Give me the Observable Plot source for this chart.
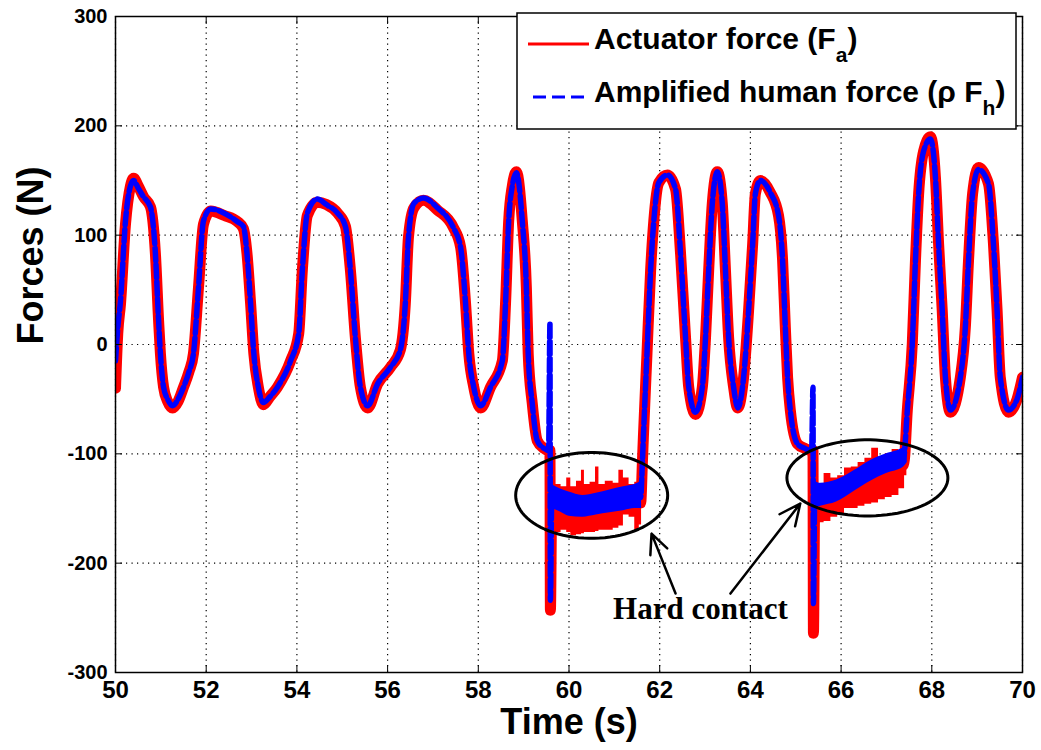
<!DOCTYPE html>
<html>
<head>
<meta charset="utf-8">
<script src="https://cdn.jsdelivr.net/npm/d3@7"></script>
<script src="https://cdn.jsdelivr.net/npm/@observablehq/plot@0.6"></script>
<style>
  html, body { margin: 0; padding: 0; background: white; }
  #wrap { position: relative; width: 1041px; height: 750px; }
  #wrap svg { display: block; }
  #legend { position: absolute; left: 0; top: 0; pointer-events: none; }
</style>
</head>
<body>
<div id="wrap"></div>
<script>
// ---- Data ----
const time = [
50.00,50.05,50.11,50.22,50.33,50.40,50.50,50.62,50.77,50.88,50.95,50.99,51.06,51.15,51.26,51.38,51.50,51.62,51.72,51.83,
51.94,52.10,52.40,52.70,52.82,52.90,52.98,53.05,53.15,53.26,53.40,53.57,53.86,54.04,54.12,54.23,54.45,54.65,54.90,55.07,
55.18,55.29,55.40,55.56,55.78,56.06,56.28,56.39,56.46,56.58,56.79,57.10,57.45,57.61,57.72,57.79,57.90,58.05,58.27,58.53,
58.60,58.67,58.75,58.84,58.97,59.06,59.10,59.19,59.30,59.45,59.55,59.58,59.59,59.62,59.80,60.00,60.30,60.60,60.90,61.20,
61.45,61.58,61.62,61.64,61.72,61.80,61.87,61.98,62.17,62.35,62.46,62.57,62.64,62.79,62.94,63.01,63.08,63.16,63.27,63.38,
63.45,63.52,63.63,63.72,63.85,63.96,64.05,64.11,64.22,64.44,64.62,64.71,64.77,64.82,64.88,65.04,65.20,65.35,65.38,65.39,
65.42,65.55,65.92,66.28,66.65,67.02,67.38,67.46,67.57,67.64,67.71,67.82,67.97,68.08,68.15,68.23,68.30,68.41,68.63,68.74,
68.81,68.90,69.03,69.25,69.36,69.44,69.51,69.69,69.88,70.00];

// Amplified human force (rho F_h), blue dashed
const humanForce = [
-15,15,40,113,145,150,143,135,126,83,22,-8,-39,-50,-56,-50,-39,-25,-8,52,
113,124,120,112,108,83,37,-8,-39,-53,-48,-39,-15,10,68,120,133,128,120,108,
68,6,-39,-56,-36,-21,-5,37,98,129,134,125,107,89,37,-8,-39,-56,-39,-15,
37,113,145,157,113,52,-8,-54,-88,-95,-97,20,-234,-140,-142,-146,-148,-147,-144,-141,
-140,-140,-106,-85,-8,68,113,148,155,142,83,6,-39,-62,-39,6,68,129,158,129,
68,6,-39,-58,-30,31,92,138,150,139,118,77,16,-30,-60,-91,-95,-97,-39,-237,
-137,-137,-134,-124,-115,-109,-103,-60,1,77,138,177,188,153,92,31,-30,-60,-30,16,
77,138,160,147,92,31,-30,-60,-50,-30];

// Actuator force (F_a), red solid
const actuatorForce = [
-40,10,37,110,145,152,145,135,126,83,22,-8,-39,-52,-58,-52,-39,-25,-8,52,
110,122,118,112,106,83,37,-8,-39,-55,-48,-39,-15,10,68,118,130,128,120,108,
68,6,-39,-58,-36,-21,-5,37,98,125,132,123,107,89,37,-8,-39,-58,-39,-15,
37,113,145,158,113,52,-8,-54,-88,-95,-97,-97,-243,-145,-148,-150,-150,-150,-148,-146,
-145,-145,-106,-85,-8,68,113,148,155,142,83,6,-39,-64,-39,6,68,129,158,129,
68,6,-39,-58,-30,31,92,138,150,139,118,77,16,-30,-60,-91,-95,-97,-97,-264,
-140,-142,-140,-130,-122,-116,-110,-60,1,77,138,177,190,153,92,31,-30,-62,-30,16,
77,138,162,147,92,31,-30,-62,-50,-30];

// Noisy bands during the two hard contacts
const redBand1Time = [59.62,59.75,59.90,60.00,60.08,60.25,60.30,60.38,60.55,60.62,60.70,60.90,61.05,61.15,61.25,61.40,61.50,61.60];
const redBand1Hi   = [-118,-128,-130,-122,-130,-125,-115,-128,-126,-112,-128,-125,-127,-115,-122,-128,-126,-115];
const redBand1Lo   = [-165,-172,-170,-172,-175,-174,-173,-172,-172,-171,-170,-170,-168,-166,-156,-158,-170,-165];
const blueBand1Time = [59.62,59.80,60.00,60.30,60.60,60.90,61.20,61.45,61.60];
const blueBand1Hi   = [-128,-132,-135,-138,-136,-133,-130,-128,-125];
const blueBand1Lo   = [-150,-153,-157,-158,-156,-154,-152,-150,-150];

const redBand2Time = [65.42,65.55,65.70,65.85,66.00,66.15,66.30,66.45,66.60,66.75,66.90,67.05,67.20,67.35,67.45];
const redBand2Hi   = [-115,-128,-118,-122,-120,-113,-112,-108,-104,-95,-104,-100,-96,-100,-95];
const redBand2Lo   = [-165,-163,-162,-158,-155,-150,-150,-148,-146,-145,-142,-140,-138,-132,-120];
const blueBand2Time = [65.42,65.55,65.90,66.30,66.65,67.00,67.38,67.46];
const blueBand2Hi   = [-125,-127,-124,-115,-106,-100,-94,-90];
const blueBand2Lo   = [-150,-148,-144,-134,-125,-118,-112,-108];

const xTicks = [50,52,54,56,58,60,62,64,66,68,70];
const yTicks = [-300,-200,-100,0,100,200,300];

// Annotations (data units)
const ellipseCx = [60.50, 66.58];
const ellipseCy = [-138, -122];
const ellipseRx = [1.676, 1.775];
const ellipseRy = [39.3, 34.8];
const arrowFromT = [62.35, 63.56];
const arrowFromF = [-227.8, -227.8];
const arrowToT = [61.82, 65.10];
const arrowToF = [-173, -145.5];
const noteText = "Hard contact";
const noteT = 62.9, noteF = -250.7;

const seriesNames = ["Actuator force (F", "Amplified human force (\u03C1 F"];
const seriesSubs = ["a", "h"];
const seriesColors = ["#ff0000", "#0000ff"];

// ---- Build tables ----
const main = time.map((t, i) => ({t, human: humanForce[i], act: actuatorForce[i]}));
const band = (ts, hi, lo) => ts.map((t, i) => ({t, hi: hi[i], lo: lo[i]}));
const red1 = band(redBand1Time, redBand1Hi, redBand1Lo);
const red2 = band(redBand2Time, redBand2Hi, redBand2Lo);
const blue1 = band(blueBand1Time, blueBand1Hi, blueBand1Lo);
const blue2 = band(blueBand2Time, blueBand2Hi, blueBand2Lo);

const ellipsePts = [];
ellipseCx.forEach((cx, k) => {
  for (let i = 0; i < 90; i++) {
    const a = (i / 90) * 2 * Math.PI;
    ellipsePts.push({id: k, t: cx + ellipseRx[k] * Math.cos(a), f: ellipseCy[k] + ellipseRy[k] * Math.sin(a)});
  }
});
const arrows = arrowFromT.map((d, i) => ({x1: d, y1: arrowFromF[i], x2: arrowToT[i], y2: arrowToF[i]}));

const gridStyle = {stroke: "black", strokeOpacity: 1, strokeWidth: 1.2, strokeDasharray: "1.2,4.3"};
const plainNum = d => String(d);

const chart = Plot.plot({
  width: 1041,
  height: 750,
  marginLeft: 115,
  marginRight: 19,
  marginTop: 16,
  marginBottom: 78,
  style: {fontFamily: "'Liberation Sans', Arial, sans-serif", background: "white", color: "black"},
  x: {domain: [50, 70], label: null},
  y: {domain: [-300, 300], label: null},
  marks: [
    Plot.gridX(xTicks, gridStyle),
    Plot.gridY(yTicks, gridStyle),
    Plot.line(main, {x: "t", y: "act", stroke: seriesColors[0], strokeWidth: 11, curve: "monotone-x", strokeLinejoin: "round", clip: true}),
    Plot.areaY(red1, {x: "t", y1: "lo", y2: "hi", fill: seriesColors[0], curve: "step"}),
    Plot.areaY(red2, {x: "t", y1: "lo", y2: "hi", fill: seriesColors[0], curve: "step"}),
    Plot.areaY(blue1, {x: "t", y1: "lo", y2: "hi", fill: seriesColors[1], curve: "monotone-x"}),
    Plot.areaY(blue2, {x: "t", y1: "lo", y2: "hi", fill: seriesColors[1], curve: "monotone-x"}),
    Plot.line(main, {x: "t", y: "human", stroke: seriesColors[1], strokeWidth: 5.5, strokeDasharray: "13,4", curve: "monotone-x", clip: true}),
    Plot.line(ellipsePts, {x: "t", y: "f", z: "id", curve: "linear-closed", stroke: "black", strokeWidth: 3}),
    Plot.arrow(arrows, {x1: "x1", y1: "y1", x2: "x2", y2: "y2", stroke: "black", strokeWidth: 2.5, headLength: 14, headAngle: 50}),
    Plot.text([noteText], {x: () => noteT, y: () => noteF, text: d => d, fontFamily: "'Liberation Serif', 'Times New Roman', serif", fontSize: 31, fontWeight: "bold", lineAnchor: "bottom", fill: "black"}),
    Plot.axisX(xTicks, {anchor: "bottom", tickSize: 0, tickPadding: 8, fontSize: 24, fontWeight: "bold", tickFormat: plainNum, label: null}),
    Plot.axisY(yTicks, {anchor: "left", tickSize: 0, tickPadding: 8, fontSize: 20, fontWeight: "bold", tickFormat: plainNum, label: null}),
    Plot.axisX(xTicks, {anchor: "bottom", tickSize: -7, tickFormat: () => "", label: null}),
    Plot.axisX(xTicks, {anchor: "top", tickSize: -7, tickFormat: () => "", label: null}),
    Plot.axisY(yTicks, {anchor: "left", tickSize: -7, tickFormat: () => "", label: null}),
    Plot.axisY(yTicks, {anchor: "right", tickSize: -7, tickFormat: () => "", label: null}),
    Plot.frame({stroke: "black", strokeWidth: 1.5}),
    Plot.text(["Time (s)"], {frameAnchor: "bottom", dy: 61, text: d => d, fontSize: 36, fontWeight: "bold", lineAnchor: "bottom", fill: "black"}),
    Plot.text(["Forces (N)"], {frameAnchor: "left", dx: -73, rotate: -90, text: d => d, fontSize: 36, fontWeight: "bold", lineAnchor: "bottom", fill: "black"})
  ]
});
document.getElementById("wrap").appendChild(chart);

// ---- Legend (boxed, top right inside plot) ----
const leg = d3.select("#wrap").append("svg").attr("id", "legend").attr("width", 1041).attr("height", 750);
leg.append("rect").attr("x", 517).attr("y", 13).attr("width", 499).attr("height", 116)
  .attr("fill", "white").attr("stroke", "black").attr("stroke-width", 1.5);
const rows = [{y: 44, x1: 528, dash: null}, {y: 97, x1: 533, dash: "13,6"}];
rows.forEach((r, i) => {
  leg.append("line").attr("x1", r.x1).attr("x2", 589).attr("y1", r.y).attr("y2", r.y)
    .attr("stroke", seriesColors[i]).attr("stroke-width", 3).attr("stroke-dasharray", r.dash);
  const tx = leg.append("text").attr("x", 594).attr("y", r.y + 5)
    .attr("font-family", "'Liberation Sans', Arial, sans-serif").attr("font-weight", "bold").attr("font-size", 30).attr("fill", "black");
  tx.append("tspan").text(seriesNames[i]);
  tx.append("tspan").attr("dy", 13).attr("font-size", 21).text(seriesSubs[i]);
  tx.append("tspan").attr("dy", -13).text(")");
});
</script>
</body>
</html>
